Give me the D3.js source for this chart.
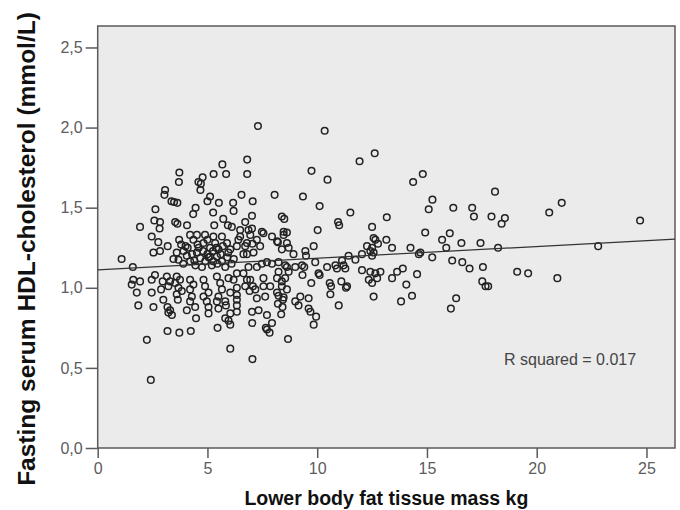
<!DOCTYPE html>
<html>
<head>
<meta charset="utf-8">
<script src="https://cdn.jsdelivr.net/npm/d3@7"></script>
<style>
  body { margin: 0; background: #fff; }
  svg { display: block; font-family: "Liberation Sans", Arial, sans-serif; }
</style>
</head>
<body>
<div id="chart"></div>
<script>
// lower body fat tissue mass (kg) and fasting HDL (mmol/L)
const lowerFat = [
  7.30,10.34,12.62,11.93,9.74,10.47,9.35,8.06,10.11,11.51,13.17,6.81,6.81,7.06,5.68,3.72,3.70,5.28,5.85,4.78,
  4.59,4.70,4.68,3.07,3.04,6.55,5.12,5.00,5.52,3.36,3.48,3.63,6.17,6.19,2.63,4.46,4.35,5.26,7.03,8.39,
  8.50,1.93,2.58,2.84,2.82,3.53,3.63,4.07,5.31,5.72,5.93,6.11,6.72,6.87,6.49,7.48,8.47,8.62,10.95,11.00,
  12.50,10.02,8.21,8.70,8.92,9.46,9.49,9.84,9.91,11.43,11.13,11.20,10.83,12.04,11.74,12.27,12.57,12.65,12.77,12.50,
  12.42,12.57,12.50,13.15,13.41,14.25,14.70,14.63,14.92,15.08,15.25,14.81,14.37,16.20,17.06,17.14,17.94,18.55,18.40,18.10,
  15.69,16.04,15.88,16.57,17.44,18.24,15.24,16.15,16.61,16.94,17.55,17.52,17.67,17.79,19.11,19.61,20.57,21.14,24.71,22.80,
  20.94,13.90,13.64,13.41,14.55,14.06,14.32,13.82,16.33,16.09,12.88,12.42,12.65,12.73,12.35,12.50,12.04,11.10,11.36,11.31,
  10.57,10.63,9.73,12.57,10.98,10.60,10.45,10.06,10.11,8.62,9.00,9.31,9.41,9.23,9.61,9.61,9.69,9.95,9.84,9.00,
  9.15,8.67,9.33,10.90,11.28,8.24,8.47,8.62,8.39,8.17,8.54,8.70,8.24,8.21,8.42,8.36,7.71,7.03,7.33,7.04,
  7.83,7.66,7.94,7.05,7.25,7.63,7.55,7.18,7.86,7.55,8.39,8.17,6.95,7.07,6.92,6.64,6.80,6.72,6.34,6.34,
  6.34,6.34,6.34,7.71,8.44,5.81,5.96,6.04,5.84,5.46,6.04,6.04,5.50,5.81,5.05,5.05,4.48,4.06,4.44,3.65,
  3.18,3.72,4.24,2.24,2.42,2.89,2.99,3.18,3.30,3.22,3.38,2.46,2.61,2.46,2.54,1.62,1.93,1.55,1.78,1.85,
  1.09,1.60,2.76,2.46,2.54,2.84,3.19,3.71,3.60,3.75,3.53,3.68,3.83,3.60,3.15,3.30,3.22,2.96,4.21,4.36,
  4.21,4.29,4.21,4.82,4.89,5.05,4.82,4.97,5.43,5.58,5.66,5.50,5.43,5.96,6.19,6.04,6.34,6.87,7.25,7.48,
  7.71,7.94,8.24,8.54,3.60,3.68,3.91,4.06,4.21,4.52,4.67,4.90,5.12,5.27,5.43,5.66,5.81,5.50,5.12,4.82,
  4.36,4.21,4.52,4.89,5.27,5.66,5.89,6.04,6.34,6.49,6.80,6.95,7.25,7.40,7.55,7.94,8.17,8.47,8.62,8.39,
  7.03,7.05,6.72,7.10,6.80,6.41,6.64,3.90,4.40,4.60,5.00,5.20,5.40,5.60,5.90,6.10,4.00,3.45,4.75,5.00,
  5.35,4.10,4.30,4.55,4.80,5.05,5.25,5.45,5.70,5.95,6.20,3.80,4.45
];
const hdl = [
  2.01,1.98,1.84,1.79,1.73,1.675,1.57,1.58,1.51,1.47,1.44,1.80,1.71,1.54,1.77,1.72,1.66,1.71,1.71,1.69,
  1.66,1.65,1.61,1.61,1.58,1.58,1.57,1.54,1.53,1.54,1.535,1.53,1.53,1.48,1.49,1.50,1.46,1.47,1.45,1.445,
  1.43,1.38,1.42,1.41,1.37,1.41,1.40,1.39,1.39,1.43,1.39,1.38,1.41,1.36,1.36,1.35,1.35,1.345,1.41,1.39,
  1.38,1.36,1.285,1.25,1.21,1.23,1.20,1.26,1.16,1.20,1.17,1.14,1.14,1.21,1.175,1.26,1.31,1.30,1.275,1.25,
  1.23,1.22,1.20,1.30,1.25,1.25,1.22,1.21,1.345,1.49,1.55,1.71,1.66,1.50,1.50,1.445,1.445,1.435,1.40,1.60,
  1.30,1.34,1.25,1.28,1.28,1.25,1.19,1.17,1.16,1.12,1.13,1.04,1.01,1.01,1.10,1.09,1.47,1.53,1.42,1.26,
  1.06,1.12,1.10,1.06,1.085,1.02,0.95,0.915,0.935,0.87,1.10,1.10,1.09,1.06,1.05,1.03,1.11,1.04,1.01,1.00,
  1.03,1.01,1.03,0.945,0.89,0.96,1.13,1.09,1.08,1.13,1.13,1.14,1.13,0.945,0.935,0.87,0.85,0.82,0.77,0.915,
  0.89,0.68,1.08,1.12,1.12,0.95,0.94,0.99,1.04,1.06,1.06,1.10,1.10,0.90,0.88,0.835,0.83,0.85,0.86,0.78,
  0.72,0.75,0.78,0.555,0.935,0.945,1.01,0.99,1.01,1.06,1.01,0.97,1.05,1.01,0.98,1.09,1.05,1.01,1.00,0.955,
  0.925,0.89,0.85,0.74,0.925,0.81,0.795,0.84,0.89,0.75,0.62,0.77,0.87,0.915,0.84,0.88,0.81,0.86,0.88,0.925,
  0.73,0.72,0.73,0.675,0.425,0.99,0.925,0.88,0.86,0.845,0.83,1.05,1.08,0.97,0.88,1.05,1.04,1.02,0.97,0.89,
  1.18,1.13,1.285,1.32,1.22,1.23,1.26,1.30,1.07,1.05,1.03,1.00,0.98,0.96,1.07,1.04,1.01,1.04,1.05,1.02,
  0.99,0.945,0.915,1.05,1.01,0.97,0.945,0.915,1.07,1.03,0.99,0.945,0.915,1.06,1.05,0.97,1.09,1.13,1.13,1.15,
  1.16,1.15,1.16,1.14,1.22,1.175,1.23,1.20,1.165,1.22,1.185,1.165,1.195,1.165,1.195,1.165,1.13,1.24,1.25,1.28,
  1.30,1.33,1.33,1.33,1.32,1.32,1.28,1.24,1.26,1.32,1.28,1.33,1.30,1.26,1.34,1.32,1.29,1.33,1.28,1.24,
  1.37,1.275,1.26,1.22,1.21,1.30,1.21,1.15,1.17,1.25,1.21,1.14,1.25,1.21,1.19,1.15,1.26,1.18,1.13,1.30,
  1.28,1.25,1.21,1.27,1.23,1.19,1.23,1.15,1.26,1.22,1.18,1.27,1.14
];
const xTicks = [0, 5, 10, 15, 20, 25];
const yTicks = [0, 0.5, 1.0, 1.5, 2.0, 2.5];
// fit line
const fitIntercept = 1.112;
const fitSlope = 0.00728;
const rSquaredLabel = "R squared = 0.017";

const data = lowerFat.map((d, i) => [d, hdl[i]]);

const w = 680, h = 510;
const plotLeft = 97.7, plotRight = 675, plotTop = 26, plotBottom = 448;

const svg = d3.select("#chart").append("svg")
  .attr("width", w)
  .attr("height", h);

const xScale = d3.scaleLinear().domain([0, 26.3]).range([plotLeft, plotRight]);
const yScale = d3.scaleLinear().domain([0, 2.634]).range([plotBottom, plotTop]);

const comma = d3.formatLocale({decimal: ",", thousands: ".", grouping: [3], currency: ["", ""]}).format(".1f");

// plot area
svg.append("rect")
  .attr("x", plotLeft).attr("y", plotTop)
  .attr("width", plotRight - plotLeft).attr("height", plotBottom - plotTop)
  .attr("fill", "#ebebeb")
  .attr("stroke", "#5a5a5a")
  .attr("stroke-width", 1.5);

// axes
const yAxis = svg.append("g")
  .attr("transform", "translate(" + plotLeft + ",0)")
  .call(d3.axisLeft(yScale).tickValues(yTicks).tickSize(12).tickPadding(3).tickFormat(comma));
const xAxis = svg.append("g")
  .attr("transform", "translate(0," + plotBottom + ")")
  .call(d3.axisBottom(xScale).tickValues(xTicks).tickSize(10).tickPadding(5).tickFormat(d3.format("d")));

[xAxis, yAxis].forEach(g => {
  g.select(".domain").remove();
  g.selectAll("line").attr("stroke", "#5a5a5a").attr("stroke-width", 1.5);
  g.selectAll("text")
    .attr("fill", "#5c5c5c")
    .style("font-size", "16px")
    .style("font-family", '"Liberation Sans", Arial, sans-serif');
});

// points
svg.append("g")
  .selectAll("circle")
  .data(data)
  .enter()
  .append("circle")
  .attr("cx", d => xScale(d[0]))
  .attr("cy", d => yScale(d[1]))
  .attr("r", 3.3)
  .attr("fill", "none")
  .attr("stroke", "#222")
  .attr("stroke-width", 1.5);

// fit line
svg.append("line")
  .attr("x1", xScale(0)).attr("y1", yScale(fitIntercept))
  .attr("x2", xScale(26.3)).attr("y2", yScale(fitIntercept + fitSlope * 26.3))
  .attr("stroke", "#333")
  .attr("stroke-width", 1.2);

svg.append("text")
  .attr("x", 504).attr("y", 365)
  .attr("fill", "#444")
  .style("font-size", "16px")
  .text(rSquaredLabel);

// titles
svg.append("text")
  .attr("x", (plotLeft + plotRight) / 2).attr("y", 505)
  .attr("text-anchor", "middle")
  .attr("fill", "#111")
  .style("font-size", "19.5px")
  .style("font-weight", "bold")
  .text("Lower body fat tissue mass kg");

svg.append("text")
  .attr("transform", "translate(35,249) rotate(-90)")
  .attr("text-anchor", "middle")
  .attr("fill", "#111")
  .style("font-size", "24.5px")
  .style("font-weight", "bold")
  .text("Fasting serum HDL-cholesterol (mmol/L)");
</script>
</body>
</html>
